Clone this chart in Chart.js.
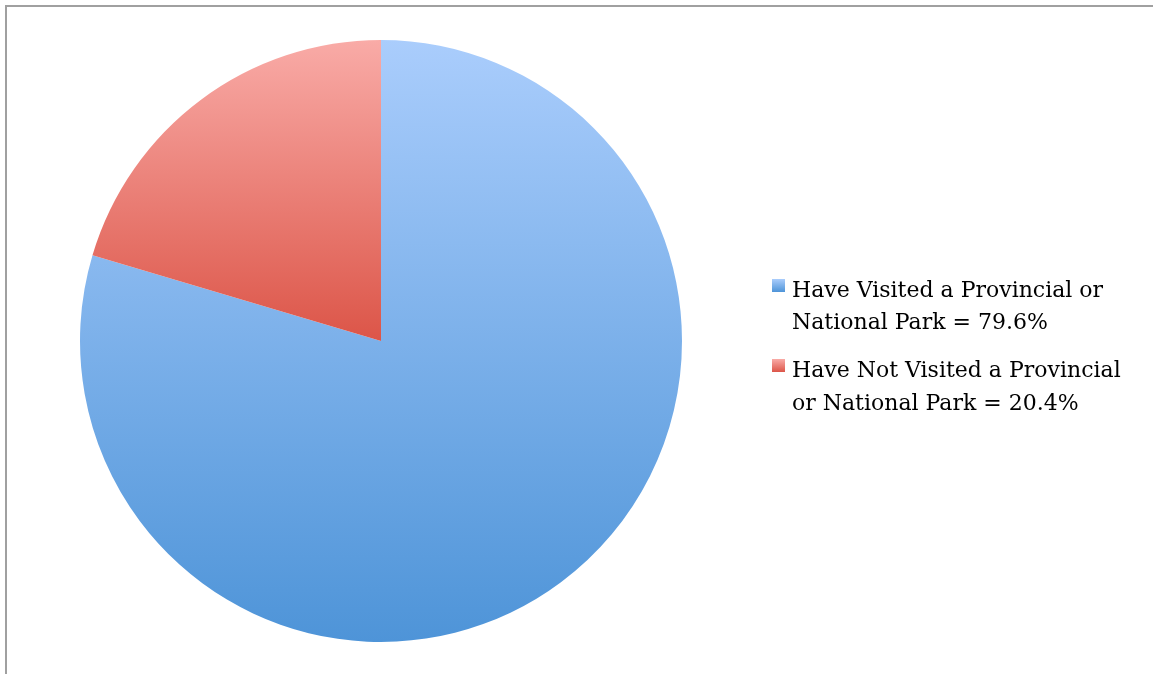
<!DOCTYPE html>
<html>
<head>
<meta charset="utf-8">
<script src="https://cdn.jsdelivr.net/npm/chart.js@4.4.0/dist/chart.umd.min.js"></script>
<style>
  html, body { margin: 0; padding: 0; background: #ffffff; }
  #wrap { width: 1153px; height: 674px; position: relative; }
</style>
</head>
<body>
<div id="wrap"><canvas id="pie-chart" width="1153" height="674"></canvas></div>
<script>
// chart data
var labels = [
  ["Have Visited a Provincial or", "National Park = 79.6%"],
  ["Have Not Visited a Provincial", "or National Park = 20.4%"]
];
var values = [79.6, 20.4];
var topColors = ["#aacdfc", "#f9aba7"];
var bottomColors = ["#4e94d8", "#dc5548"];

function sliceFill(context) {
  /**
   * Vertical gradient for each slice, light at the top, darker at the bottom.
   */
  var chart = context.chart;
  var area = chart.chartArea;
  if (!area) return topColors[context.dataIndex];
  var i = context.dataIndex;
  var cy = (area.top + area.bottom) / 2;
  var endY = i === 0 ? area.bottom : cy;
  var g = chart.ctx.createLinearGradient(0, area.top, 0, endY);
  g.addColorStop(0, topColors[i]);
  g.addColorStop(1, bottomColors[i]);
  return g;
}

var frameAndLegend = {
  id: "frameAndLegend",
  afterDraw: function(chart) {
    var ctx = chart.ctx;
    ctx.save();
    // frame lines (top and left)
    ctx.fillStyle = "#a0a0a0";
    ctx.fillRect(5, 5, 1148, 2);
    ctx.fillRect(5, 5, 2, 669);

    // legend
    var boxX = 772, textX = 792;
    var rows = [[297, 329], [377, 410]];
    ctx.font = "22px 'DejaVu Serif', 'Liberation Serif', serif";
    ctx.textBaseline = "alphabetic";
    for (var i = 0; i < labels.length; i++) {
      var by = rows[i][0] - 18;
      var g = ctx.createLinearGradient(0, by, 0, by + 13);
      g.addColorStop(0, topColors[i]);
      g.addColorStop(1, bottomColors[i]);
      ctx.fillStyle = g;
      ctx.fillRect(boxX, by, 13, 13);
      ctx.fillStyle = "#000000";
      for (var j = 0; j < labels[i].length; j++) {
        ctx.fillText(labels[i][j], textX, rows[i][j]);
      }
    }
    ctx.restore();
  }
};

new Chart(document.getElementById("pie-chart"), {
  type: "pie",
  data: {
    labels: labels.map(function(l) { return l.join(" "); }),
    datasets: [{
      data: values,
      backgroundColor: sliceFill,
      borderWidth: 0
    }]
  },
  options: {
    responsive: false,
    animation: false,
    layout: { padding: { left: 80, right: 471, top: 40, bottom: 32 } },
    plugins: {
      legend: { display: false },
      tooltip: { enabled: false }
    }
  },
  plugins: [frameAndLegend]
});
</script>
</body>
</html>
